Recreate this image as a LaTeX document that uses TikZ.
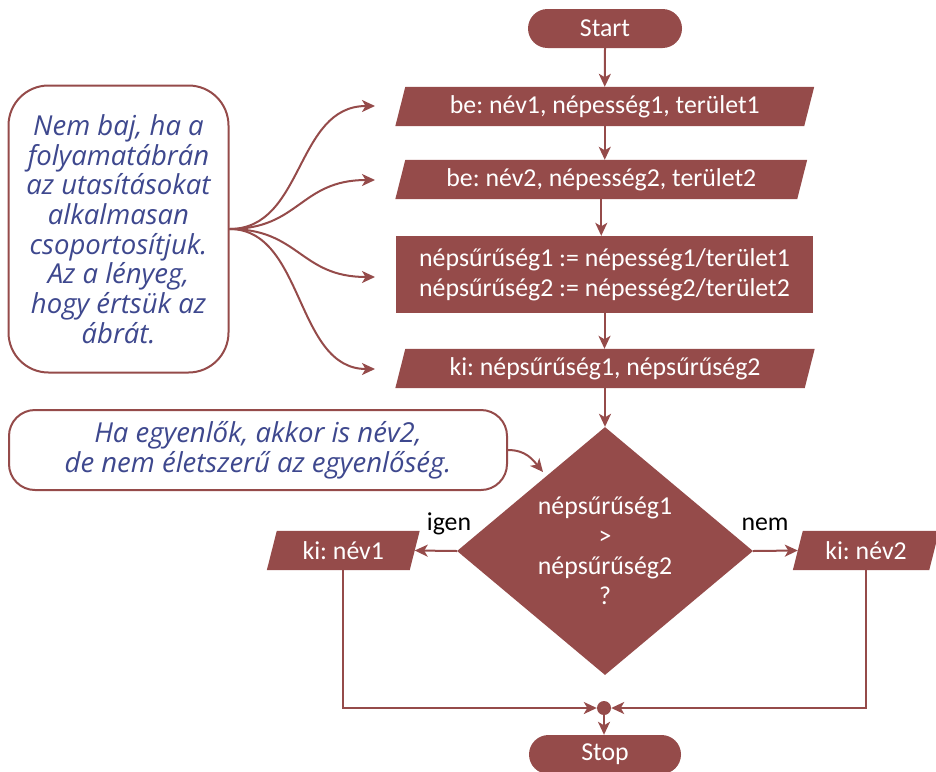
\documentclass[tikz,border=0pt]{standalone}
\usepackage{fontspec}
\setmainfont{Carlito}
\newfontfamily\notefont{Open Sans}
\frenchspacing
\usetikzlibrary{arrows.meta,shapes.geometric,backgrounds,calc}
\definecolor{maroon}{RGB}{149,75,74}
\definecolor{noteblue}{RGB}{62,72,142}

% fill a parallelogram behind a rectangular node, top edge shifted right
\newcommand\slantfill[1]{%
  \fill[maroon] ($(#1.south west)+(-5,0)$) -- ($(#1.north west)+(5,0)$)
    -- ($(#1.north east)+(5,0)$) -- ($(#1.south east)+(-5,0)$) -- cycle;}

\tikzset{
  boxtext/.style={text=white, inner sep=0pt, align=center,
    font=\fontsize{25.8}{30}\selectfont},
  slantbox/.style={boxtext, minimum height=39pt},
  procbox/.style={boxtext, fill=maroon},
  termbox/.style={boxtext, fill=maroon, rounded corners=19.5pt,
    minimum height=39pt},
  conn/.style={draw=maroon, line width=2pt,
    -{Stealth[length=13pt,width=12pt,inset=3.5pt]}},
  notebox/.style={draw=maroon, line width=2pt, fill=white, align=center,
    text=noteblue, inner sep=0pt,
    font=\notefont\itshape\fontsize{27.5}{29.7}\selectfont},
  lbl/.style={text=black, font=\fontsize{25.8}{30}\selectfont, inner sep=0pt}
}

\begin{document}
\begin{tikzpicture}[x=1pt,y=-1pt]
  \useasboundingbox (0,0) rectangle (936,771);

  % main flow
  \node[termbox, minimum width=154pt] (start) at (605,28.5) {Start};
  \node[slantbox, minimum width=408.5pt] (p1) at (604.75,106.5)
    {be: név1, népesség1, terület1};
  \node[slantbox, minimum width=401.5pt] (p2) at (601.25,179.5)
    {be: név2, népesség2, terület2};
  \node[procbox, minimum width=417pt, minimum height=77pt] (calc) at (604.5,274.5)
    {népsűrűség1 := népesség1/terület1\\népsűrűség2 := népesség2/terület2};
  \node[slantbox, minimum width=409pt] (p3) at (605,368.5)
    {ki: népsűrűség1, népsűrűség2};

  % decision
  \node[diamond, fill=maroon, inner sep=0pt, minimum width=296pt,
        minimum height=248pt] (dec) at (605,551) {};
  \node[boxtext] (dectext) at (605,551)
    {népsűrűség1\\>\\népsűrűség2\\?};

  \node[slantbox, minimum width=142.5pt] (out1) at (343.25,550.5) {ki: név1};
  \node[slantbox, minimum width=136pt] (out2) at (866,550.5) {ki: név2};

  \node[lbl] (igen) at (449,524) {igen};
  \node[lbl] (nem) at (765,524) {nem};

  \node[circle, fill=maroon, minimum size=14pt, inner sep=0pt] (join) at (604,708) {};
  \node[termbox, minimum width=152pt] (stop) at (605,754.5) {Stop};

  \begin{pgfonlayer}{background}
    \slantfill{p1}
    \slantfill{p2}
    \slantfill{p3}
    \slantfill{out1}
    \slantfill{out2}
  \end{pgfonlayer}

  % connectors of the flow
  \draw[conn] (start.south) -- (p1.north);
  \draw[conn] (p1.south) -- (p1.south |- p2.north);
  \draw[conn] (p2.south) -- (p2.south |- calc.north);
  \draw[conn] (calc.south) -- (calc.south |- p3.north);
  \draw[conn] (p3.south) -- (p3.south |- dec.north);
  \draw[conn] (dec.west) -- (out1.east);
  \draw[conn] (dec.east) -- (out2.west);
  \draw[conn] (out1.south) |- (join.west);
  \draw[conn] (out2.south) |- (join.east);
  \draw[conn] (join.south) -- (join.south |- stop.north);

  % notes
  \node[notebox, rounded corners=40pt, minimum width=220pt, minimum height=287pt]
    (note1) at (118.5,229)
    {Nem baj, ha a\\folyamatábrán\\az utasításokat\\alkalmasan\\csoportosítjuk.\\Az a lényeg,\\hogy értsük az\\ábrát.};
  \node[notebox, rounded corners=26pt, minimum width=498pt, minimum height=80pt]
    (note2) at (258,450)
    {Ha egyenlők, akkor is név2,\\de nem életszerű az egyenlőség.};

  \coordinate (t1) at (375,106);
  \coordinate (t2) at (375,180);
  \coordinate (t3) at (375,277);
  \coordinate (t4) at (375,369);
  \coordinate (t5) at (543,472);

  \draw[conn] (note1.east) .. controls +(75,0) and +(-80,0) .. (t1);
  \draw[conn] (note1.east) .. controls +(70,0) and +(-75,0) .. (t2);
  \draw[conn] (note1.east) .. controls +(70,0) and +(-75,0) .. (t3);
  \draw[conn] (note1.east) .. controls +(75,0) and +(-80,0) .. (t4);
  \draw[conn] (note2.east) .. controls +(18,0) and +(-10,-12) .. (t5);
\end{tikzpicture}
\end{document}
